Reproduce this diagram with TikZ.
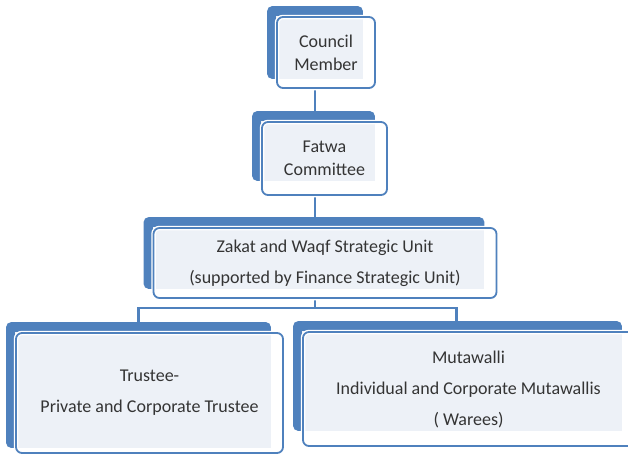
\documentclass[tikz,border=0pt]{standalone}
\usepackage{fontspec}
\setmainfont{Carlito}
\usetikzlibrary{backgrounds}
\definecolor{boxblue}{RGB}{79,129,189}
\definecolor{boxpale}{RGB}{237,241,247}
\definecolor{boxtext}{RGB}{52,52,52}
\begin{document}
\begin{tikzpicture}
    [x=1pt,y=-1pt,
     orgbox/.style={draw=boxblue, line width=1.8pt, rounded corners=6pt,
       preaction={draw=white, line width=4.5pt},
       inner sep=0pt, align=center, text=boxtext,
       font=\fontsize{18}{23}\selectfont},
     widebox/.style={orgbox, font=\fontsize{18}{31}\selectfont},
     link/.style={draw=boxblue, line width=2.8pt}]
    \clip (0,0) rectangle (628,455);
    \node[orgbox, minimum width=98pt, minimum height=71pt] (council) at (326,52.5)
      {Council\\Member};
    \node[orgbox, minimum width=125pt, minimum height=73pt] (fatwa) at (324.5,158.5)
      {Fatwa\\Committee};
    \node[widebox, minimum width=343pt, minimum height=70pt] (zakat) at (325,263)
      {Zakat and Waqf Strategic Unit\\(supported by Finance Strategic Unit)};
    \node[widebox, minimum width=267pt, minimum height=120pt] (trustee) at (149.5,393)
      {Trustee-\\Private and Corporate Trustee};
    \node[widebox, minimum width=331pt, minimum height=114pt] (mutawalli) at (468.5,389)
      {Mutawalli\\Individual and Corporate Mutawallis\\( Warees)};
    \coordinate (spine) at (315,0);
    \begin{scope}[on background layer]
      % connectors
      \draw[link] (council.south -| spine) -- (fatwa.north -| spine);
      \draw[link] (fatwa.south -| spine) -- (zakat.north -| spine);
      \draw[link] (zakat.south -| spine) -- ++(0,-9pt) coordinate (fork);
      \draw[link] ([xshift=-11pt]trustee.north) |- (fork)
        -| ([xshift=-12pt]mutawalli.north);
      % blue backs and pale fills
      \foreach \n/\b in {council/10,fatwa/15,zakat/10,trustee/6,mutawalli/16} {
        \fill[boxblue, rounded corners=5pt] ([shift={(-9pt,10pt)}]\n.north west)
          rectangle ([shift={(-13pt,\b pt)}]\n.south east);
        \fill[white, rounded corners=6pt] (\n.north west) rectangle (\n.south east);
        \fill[boxpale] (\n.north west)
          rectangle ([shift={(-13pt,\b pt)}]\n.south east);
      }
    \end{scope}
\end{tikzpicture}
\end{document}
